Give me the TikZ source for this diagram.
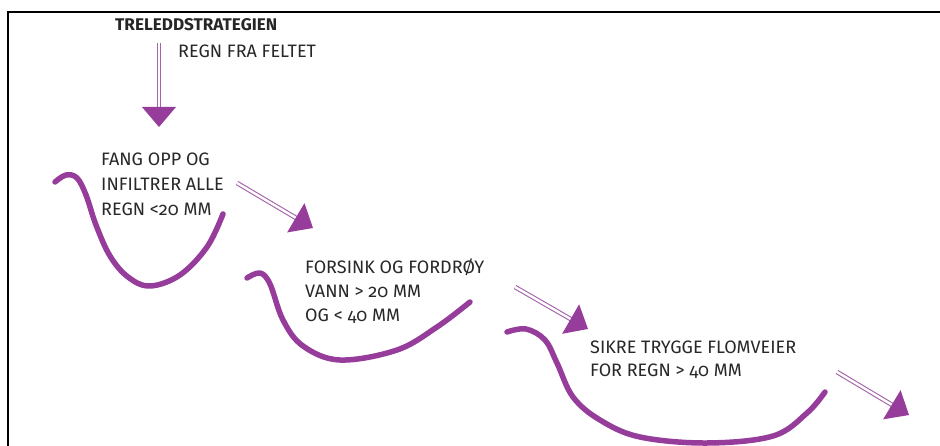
\documentclass[tikz,border=0pt]{standalone}
\usepackage{fontspec}
\usepackage{graphicx}
\setmainfont{Fira Sans}[Numbers=OldStyle]
\usetikzlibrary{calc}
\definecolor{purp}{RGB}{150,60,155}
\definecolor{shaftcol}{RGB}{165,100,170}
\definecolor{txt}{RGB}{40,40,40}
\tikzset{
  curve/.style={draw=purp, line width=5.5pt, line cap=round, line join=round},
  shaft/.style={draw=shaftcol, double=white, double distance=2.4pt, line width=1.1pt},
  lbl/.style={anchor=base west, inner sep=0pt, text=txt, font=\fontsize{18}{20}\selectfont},
}
\newcommand\purarrow[2]{%
  \coordinate (#2b) at ($(#2)!20pt!(#1)$);
  \draw[shaft] (#1) -- ($(#2)!18pt!(#1)$);
  \fill[purp] (#2) -- ($(#2b)!17pt!90:(#2)$) -- ($(#2b)!17pt!-90:(#2)$) -- cycle;
}
\begin{document}
\begin{tikzpicture}[x=1pt,y=-1pt]
\useasboundingbox (0,0) rectangle (940,446);
\fill[white] (0,0) rectangle (940,446);
% frame
\draw[line width=2pt] (8,447) -- (8,12) -- (941,12);

% titles
\node[lbl, text=black!85] (heading) at (115,31) {\resizebox{162pt}{12pt}{\bfseries TRELEDDSTRATEGIEN}};
\node[lbl] (regn) at (178,58) {REGN FRA FELTET};

% step 1
\node[lbl] (t1a) at (101,166) {FANG OPP OG};
\node[lbl] (t1b) at (101,191) {INFILTRER ALLE};
\node[lbl] (t1c) at (101,216) {REGN <20 MM};

% step 2
\node[lbl] (t2a) at (305,274) {FORSINK OG FORDRØY};
\node[lbl] (t2b) at (305,298) {VANN > 20 MM};
\node[lbl] (t2c) at (305,322) {OG < 40 MM};

% step 3
\node[lbl] (t3a) at (590,353) {SIKRE TRYGGE FLOMVEIER};
\node[lbl] (t3b) at (590,377) {FOR REGN > 40 MM};

% curves
\draw[curve] plot[smooth, tension=0.6] coordinates {(55,182) (66,175) (77,178) (86,195) (96,225) (110,256) (128,277) (150,286) (180,275) (207,247) (223,214)};
\draw[curve] plot[smooth, tension=0.6] coordinates {(247,278) (260,273) (270,284) (283,320) (303,346) (340,360) (397,350) (437,327) (470,302)};
\draw[curve] plot[smooth, tension=0.6] coordinates {(507,332) (526,329) (545,340) (557,363) (573,397) (600,420) (640,437) (707,443) (773,436) (807,413) (825,392)};

% arrows
\coordinate (a1s) at (159,43);
\coordinate (a1e) at (159,127);
\coordinate (a2s) at (237,183);
\coordinate (a2e) at (313,228);
\coordinate (a3s) at (515,287);
\coordinate (a3e) at (588,329);
\coordinate (a4s) at (837,372);
\coordinate (a4e) at (909,415);
\purarrow{a1s}{a1e}
\purarrow{a2s}{a2e}
\purarrow{a3s}{a3e}
\purarrow{a4s}{a4e}
\end{tikzpicture}
\end{document}
